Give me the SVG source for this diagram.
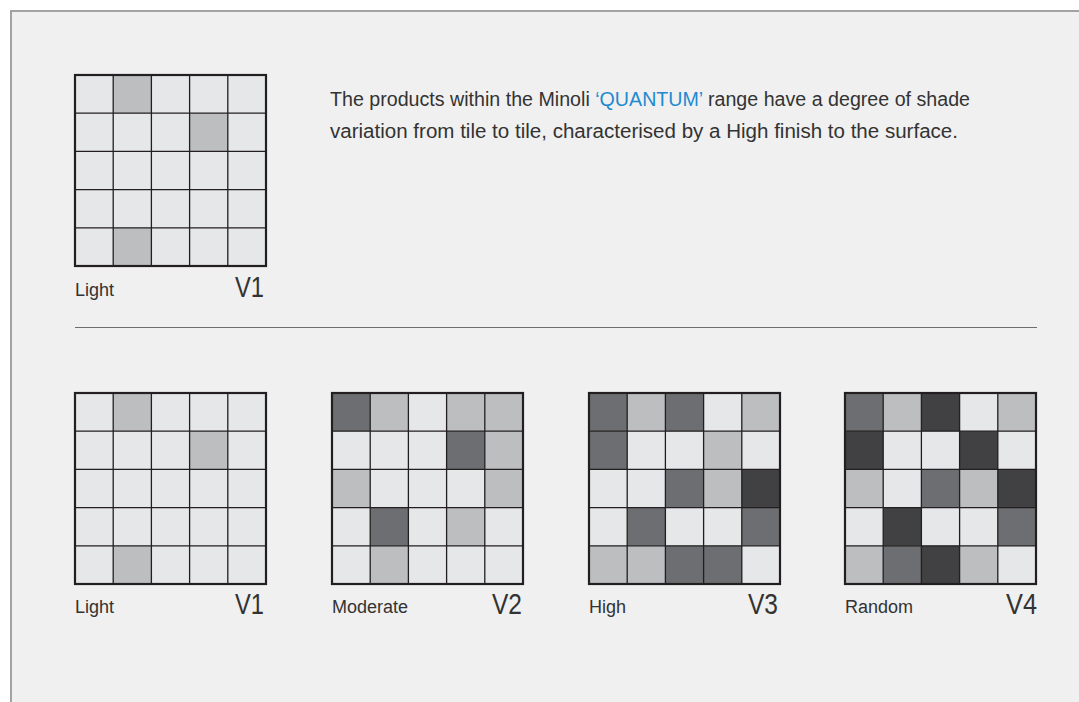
<svg xmlns="http://www.w3.org/2000/svg" xmlns:xlink="http://www.w3.org/1999/xlink" width="1079" height="702" viewBox="0 0 1079 702">
<style>
.l{fill:#e6e7e8}
.m{fill:#bcbec0}
.d{fill:#6d6e71}
.x{fill:#414042}
.lines{fill:none;stroke:#231f20;stroke-width:1.3}
.frame{fill:none;stroke:#231f20;stroke-width:2.2}
.lab{font-family:"Liberation Sans",Arial,sans-serif;font-size:18px;fill:#333333}
.v{font-family:"Liberation Sans",Arial,sans-serif;font-size:30px;fill:#333333}
.body{font-family:"Liberation Sans",Arial,sans-serif;font-size:20px;fill:#333333}
</style>
<defs>
<path id="gl" class="lines" d="M38.2 0V191M76.4 0V191M114.6 0V191M152.8 0V191M0 38.2H191M0 76.4H191M0 114.6H191M0 152.8H191"/>
</defs>
<rect x="0" y="0" width="1079" height="702" fill="#ffffff"/>
<rect x="11" y="11" width="1090" height="720" fill="#f0f0f0" stroke="#a3a3a3" stroke-width="2"/>

<g id="top-v1" transform="translate(75,75)">
<rect class="l" width="191" height="191"/>
<rect class="m" x="38.2" y="0" width="38.2" height="38.2"/>
<rect class="m" x="114.6" y="38.2" width="38.2" height="38.2"/>
<rect class="m" x="38.2" y="152.8" width="38.2" height="38.2"/>
<use xlink:href="#gl"/>
<rect class="frame" width="191" height="191"/>
<text class="lab" x="0" y="221">Light</text>
<text class="v" x="189" y="221.5" text-anchor="end" textLength="29" lengthAdjust="spacingAndGlyphs">V1</text>
</g>

<g id="description">
<text class="body" x="330" y="106" textLength="640" lengthAdjust="spacingAndGlyphs">The products within the Minoli <tspan fill="#1f8ad0">‘QUANTUM’</tspan> range have a degree of shade</text>
<text class="body" x="330" y="138" textLength="628" lengthAdjust="spacingAndGlyphs">variation from tile to tile, characterised by a High finish to the surface.</text>
</g>

<line id="separator" x1="75" y1="327.5" x2="1037" y2="327.5" stroke="#6d6e71" stroke-width="1"/>

<g id="v1" transform="translate(75,393)">
<rect class="l" width="191" height="191"/>
<rect class="m" x="38.2" y="0" width="38.2" height="38.2"/>
<rect class="m" x="114.6" y="38.2" width="38.2" height="38.2"/>
<rect class="m" x="38.2" y="152.8" width="38.2" height="38.2"/>
<use xlink:href="#gl"/>
<rect class="frame" width="191" height="191"/>
<text class="lab" x="0" y="220">Light</text>
<text class="v" x="189" y="220.5" text-anchor="end" textLength="29" lengthAdjust="spacingAndGlyphs">V1</text>
</g>

<g id="v2" transform="translate(332,393)">
<rect class="l" width="191" height="191"/>
<rect class="d" x="0" y="0" width="38.2" height="38.2"/>
<rect class="m" x="38.2" y="0" width="38.2" height="38.2"/>
<rect class="m" x="114.6" y="0" width="38.2" height="38.2"/>
<rect class="m" x="152.8" y="0" width="38.2" height="38.2"/>
<rect class="d" x="114.6" y="38.2" width="38.2" height="38.2"/>
<rect class="m" x="152.8" y="38.2" width="38.2" height="38.2"/>
<rect class="m" x="0" y="76.4" width="38.2" height="38.2"/>
<rect class="m" x="152.8" y="76.4" width="38.2" height="38.2"/>
<rect class="d" x="38.2" y="114.6" width="38.2" height="38.2"/>
<rect class="m" x="114.6" y="114.6" width="38.2" height="38.2"/>
<rect class="m" x="38.2" y="152.8" width="38.2" height="38.2"/>
<use xlink:href="#gl"/>
<rect class="frame" width="191" height="191"/>
<text class="lab" x="0" y="220">Moderate</text>
<text class="v" x="190" y="220.5" text-anchor="end" textLength="30" lengthAdjust="spacingAndGlyphs">V2</text>
</g>

<g id="v3" transform="translate(589,393)">
<rect class="l" width="191" height="191"/>
<rect class="d" x="0" y="0" width="38.2" height="38.2"/>
<rect class="m" x="38.2" y="0" width="38.2" height="38.2"/>
<rect class="d" x="76.4" y="0" width="38.2" height="38.2"/>
<rect class="m" x="152.8" y="0" width="38.2" height="38.2"/>
<rect class="d" x="0" y="38.2" width="38.2" height="38.2"/>
<rect class="m" x="114.6" y="38.2" width="38.2" height="38.2"/>
<rect class="d" x="76.4" y="76.4" width="38.2" height="38.2"/>
<rect class="m" x="114.6" y="76.4" width="38.2" height="38.2"/>
<rect class="x" x="152.8" y="76.4" width="38.2" height="38.2"/>
<rect class="d" x="38.2" y="114.6" width="38.2" height="38.2"/>
<rect class="d" x="152.8" y="114.6" width="38.2" height="38.2"/>
<rect class="m" x="0" y="152.8" width="38.2" height="38.2"/>
<rect class="m" x="38.2" y="152.8" width="38.2" height="38.2"/>
<rect class="d" x="76.4" y="152.8" width="38.2" height="38.2"/>
<rect class="d" x="114.6" y="152.8" width="38.2" height="38.2"/>
<use xlink:href="#gl"/>
<rect class="frame" width="191" height="191"/>
<text class="lab" x="0" y="220">High</text>
<text class="v" x="189" y="220.5" text-anchor="end" textLength="30" lengthAdjust="spacingAndGlyphs">V3</text>
</g>

<g id="v4" transform="translate(845,393)">
<rect class="l" width="191" height="191"/>
<rect class="d" x="0" y="0" width="38.2" height="38.2"/>
<rect class="m" x="38.2" y="0" width="38.2" height="38.2"/>
<rect class="x" x="76.4" y="0" width="38.2" height="38.2"/>
<rect class="m" x="152.8" y="0" width="38.2" height="38.2"/>
<rect class="x" x="0" y="38.2" width="38.2" height="38.2"/>
<rect class="x" x="114.6" y="38.2" width="38.2" height="38.2"/>
<rect class="m" x="0" y="76.4" width="38.2" height="38.2"/>
<rect class="d" x="76.4" y="76.4" width="38.2" height="38.2"/>
<rect class="m" x="114.6" y="76.4" width="38.2" height="38.2"/>
<rect class="x" x="152.8" y="76.4" width="38.2" height="38.2"/>
<rect class="x" x="38.2" y="114.6" width="38.2" height="38.2"/>
<rect class="d" x="152.8" y="114.6" width="38.2" height="38.2"/>
<rect class="m" x="0" y="152.8" width="38.2" height="38.2"/>
<rect class="d" x="38.2" y="152.8" width="38.2" height="38.2"/>
<rect class="x" x="76.4" y="152.8" width="38.2" height="38.2"/>
<rect class="m" x="114.6" y="152.8" width="38.2" height="38.2"/>
<use xlink:href="#gl"/>
<rect class="frame" width="191" height="191"/>
<text class="lab" x="0" y="220">Random</text>
<text class="v" x="192" y="220.5" text-anchor="end" textLength="31" lengthAdjust="spacingAndGlyphs">V4</text>
</g>
</svg>
